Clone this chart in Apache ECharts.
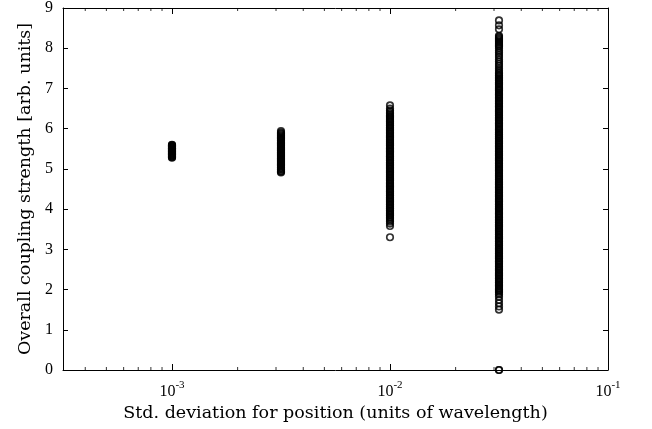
<!DOCTYPE html>
<html>
<head>
<meta charset="utf-8">
<script src="https://cdn.jsdelivr.net/npm/echarts@6/dist/echarts.min.js"></script>
<style>
  html, body { margin: 0; padding: 0; background: #fff; }
  #chart { width: 652px; height: 429px; }
</style>
</head>
<body>
<div id="chart"></div>
<script>
// Position spread (std. deviation, units of wavelength) for each ensemble
const sigmaValues = [0.001, 0.003162, 0.01, 0.03162];

// Overall coupling strength of every realisation, one list per ensemble
const strengthSigma1 = [
  5.28, 5.29, 5.31, 5.32, 5.34, 5.35, 5.36, 5.38, 5.39, 5.40, 5.42, 5.43,
  5.44, 5.46, 5.47, 5.48, 5.50, 5.51, 5.52, 5.54, 5.55, 5.56, 5.58, 5.59, 5.60
];
const strengthSigma2 = [
  4.91, 4.93, 4.95, 4.98, 5.00, 5.02, 5.04, 5.07, 5.09, 5.11, 5.13, 5.15,
  5.18, 5.20, 5.22, 5.24, 5.26, 5.28, 5.31, 5.33, 5.35, 5.37, 5.39, 5.41,
  5.44, 5.46, 5.48, 5.50, 5.52, 5.54, 5.57, 5.59, 5.61, 5.63, 5.65, 5.67,
  5.70, 5.72, 5.74, 5.76, 5.78, 5.80, 5.83, 5.85, 5.88, 5.90, 5.94
];
const strengthSigma3 = [
  3.30, 3.58, 3.64, 3.69, 3.73, 3.77, 3.80, 3.84, 3.86, 3.89,
  3.92, 3.95, 3.97, 4.01, 4.03, 4.06, 4.10, 4.12, 4.15, 4.18, 4.21, 4.24,
  4.27, 4.29, 4.33, 4.35, 4.38, 4.42, 4.44, 4.47, 4.50, 4.53, 4.56, 4.58,
  4.62, 4.64, 4.67, 4.71, 4.73, 4.76, 4.79, 4.82, 4.85, 4.87, 4.91, 4.93,
  4.96, 5.00, 5.02, 5.05, 5.08, 5.11, 5.14, 5.16, 5.20, 5.22, 5.25, 5.29,
  5.31, 5.34, 5.37, 5.40, 5.43, 5.45, 5.49, 5.51, 5.54, 5.58, 5.60, 5.63,
  5.66, 5.69, 5.72, 5.74, 5.78, 5.80, 5.83, 5.87, 5.89, 5.92, 5.95, 5.98,
  6.01, 6.03, 6.07, 6.09, 6.12, 6.16, 6.18, 6.21, 6.24, 6.27, 6.30,
  6.33, 6.37, 6.41, 6.45, 6.50, 6.58
];
const strengthSigma4 = [
  0.00, 0.00, 1.50, 1.58, 1.66, 1.74, 1.82, 1.88, 1.92,
  1.96, 1.99, 2.01, 2.04, 2.08, 2.10, 2.13, 2.17, 2.19, 2.22, 2.26, 2.28,
  2.31, 2.35, 2.37, 2.40, 2.43, 2.47, 2.49, 2.52, 2.56, 2.58, 2.61, 2.64,
  2.68, 2.70, 2.73, 2.77, 2.79, 2.82, 2.85, 2.89, 2.91, 2.94, 2.98,
  3.00, 3.02, 3.05, 3.09, 3.11, 3.14, 3.18, 3.20, 3.23, 3.27, 3.29, 3.32,
  3.36, 3.38, 3.41, 3.45, 3.47, 3.50, 3.53, 3.57, 3.59, 3.62, 3.66, 3.68,
  3.71, 3.74, 3.78, 3.80, 3.83, 3.87, 3.89, 3.92, 3.95, 3.99,
  4.01, 4.03, 4.06, 4.10, 4.12, 4.15, 4.19, 4.21, 4.24, 4.27, 4.31, 4.33,
  4.36, 4.40, 4.42, 4.45, 4.48, 4.52, 4.54, 4.57, 4.61, 4.63, 4.66, 4.69,
  4.73, 4.75, 4.78, 4.82, 4.84, 4.87, 4.90, 4.94, 4.96, 4.99,
  5.02, 5.05, 5.08, 5.12, 5.14, 5.17, 5.21, 5.23, 5.26, 5.29, 5.33, 5.35,
  5.38, 5.42, 5.44, 5.47, 5.50, 5.54, 5.56, 5.59, 5.63, 5.65, 5.68, 5.71,
  5.75, 5.77, 5.80, 5.84, 5.86, 5.89, 5.92, 5.96, 5.98,
  6.01, 6.04, 6.07, 6.11, 6.13, 6.16, 6.20, 6.22, 6.25, 6.28, 6.32, 6.34,
  6.37, 6.41, 6.43, 6.46, 6.49, 6.53, 6.55, 6.58, 6.62, 6.64, 6.67, 6.70,
  6.74, 6.76, 6.79, 6.83, 6.85, 6.88, 6.91, 6.95, 6.97,
  7.00, 7.03, 7.06, 7.10, 7.12, 7.15, 7.19, 7.21, 7.24, 7.27, 7.31, 7.33,
  7.37, 7.40, 7.45, 7.50, 7.56, 7.61, 7.67, 7.72, 7.78, 7.83, 7.89, 7.94,
  8.00, 8.04, 8.07, 8.10, 8.13, 8.16, 8.19, 8.22, 8.25, 8.28, 8.31,
  8.47, 8.57, 8.69
];

// Minor log ticks (2..9 x decade) inside the visible range
const minorTickValues = [
  0.0004, 0.0005, 0.0006, 0.0007, 0.0008, 0.0009,
  0.002, 0.003, 0.004, 0.005, 0.006, 0.007, 0.008, 0.009,
  0.02, 0.03, 0.04, 0.05, 0.06, 0.07, 0.08, 0.09
];

const yTicks = [0, 1, 2, 3, 4, 5, 6, 7, 8, 9];
const xTitle = 'Std. deviation for position (units of wavelength)';
const yTitle = 'Overall coupling strength [arb. units]';

const strengthLists = [strengthSigma1, strengthSigma2, strengthSigma3, strengthSigma4];
const points = [];
strengthLists.forEach((list, i) => {
  list.forEach(v => points.push([sigmaValues[i], v]));
});

const xMin = Math.pow(10, -3.5);
const xMax = 0.1;
const yMin = yTicks[0];
const yMax = yTicks[yTicks.length - 1];

const FONT = 'Liberation Serif';
const TITLE_FONT = 'DejaVu Serif';
const TXT = '#000';

const bottomTicks = minorTickValues.map(v => [v, yMin]);
const topTicks = minorTickValues.map(v => [v, yMax]);

const chart = echarts.init(document.getElementById('chart'), null, { renderer: 'canvas' });

chart.setOption({
  animation: false,
  backgroundColor: '#fff',
  grid: { left: 63, right: 44, top: 5, bottom: 59, containLabel: false },
  xAxis: [
    {
      type: 'log',
      logBase: 10,
      min: xMin,
      max: xMax,
      position: 'bottom',
      name: xTitle,
      nameLocation: 'middle',
      nameGap: 34,
      nameTextStyle: { fontFamily: TITLE_FONT, fontSize: 17.5, color: TXT },
      axisLine: { show: true, onZero: false, lineStyle: { color: '#000', width: 1 } },
      axisTick: { show: true, inside: true, length: 6, lineStyle: { color: '#000' } },
      splitLine: { show: false },
      axisLabel: {
        showMinLabel: false,
        margin: 10,
        formatter: v => '{b|10}{s|' + Math.round(Math.log10(v)) + '}',
        rich: {
          b: { fontFamily: FONT, fontSize: 16, color: TXT, verticalAlign: 'bottom', lineHeight: 20 },
          s: { fontFamily: FONT, fontSize: 11, color: TXT, verticalAlign: 'top', lineHeight: 20 }
        }
      }
    },
    {
      type: 'log',
      logBase: 10,
      min: xMin,
      max: xMax,
      position: 'top',
      axisLine: { show: true, onZero: false, lineStyle: { color: '#000', width: 1 } },
      axisTick: { show: true, inside: true, length: 6, lineStyle: { color: '#000' } },
      axisLabel: { show: false },
      splitLine: { show: false }
    }
  ],
  yAxis: [
    {
      type: 'value',
      min: yMin,
      max: yMax,
      interval: 1,
      position: 'left',
      name: yTitle,
      nameLocation: 'middle',
      nameGap: 28,
      nameRotate: 90,
      nameTextStyle: { fontFamily: TITLE_FONT, fontSize: 17.5, color: TXT },
      axisLine: { show: true, onZero: false, lineStyle: { color: '#000', width: 1 } },
      axisTick: { show: true, inside: true, length: 5, lineStyle: { color: '#000' } },
      splitLine: { show: false },
      axisLabel: { margin: 10, fontFamily: FONT, fontSize: 16, color: TXT }
    },
    {
      type: 'value',
      min: yMin,
      max: yMax,
      interval: 1,
      position: 'right',
      axisLine: { show: true, onZero: false, lineStyle: { color: '#000', width: 1 } },
      axisTick: { show: true, inside: true, length: 5, lineStyle: { color: '#000' } },
      axisLabel: { show: false },
      splitLine: { show: false }
    }
  ],
  series: [
    {
      name: 'coupling',
      type: 'scatter',
      xAxisIndex: 0,
      yAxisIndex: 0,
      data: points,
      symbol: 'circle',
      symbolSize: 6.5,
      clip: false,
      itemStyle: { color: 'rgba(0,0,0,0)', borderColor: '#000', borderWidth: 1.7 },
      emphasis: { disabled: true }
    },
    {
      name: 'minorBottom',
      type: 'scatter',
      silent: true,
      data: bottomTicks,
      symbol: 'rect',
      symbolSize: [1, 3],
      symbolOffset: [0, -1.5],
      clip: false,
      itemStyle: { color: '#000' },
      z: 3
    },
    {
      name: 'minorTop',
      type: 'scatter',
      silent: true,
      data: topTicks,
      symbol: 'rect',
      symbolSize: [1, 3],
      symbolOffset: [0, 1.5],
      clip: false,
      itemStyle: { color: '#000' },
      z: 3
    }
  ]
});
</script>
</body>
</html>
